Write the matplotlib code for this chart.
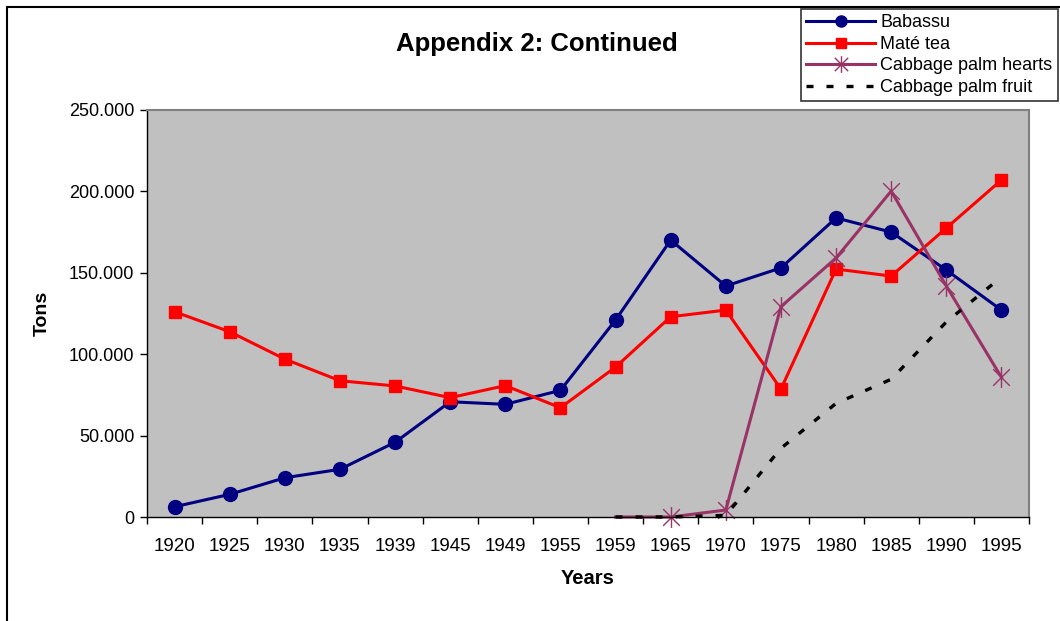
import numpy as np
import matplotlib
matplotlib.use("Agg")
import matplotlib.pyplot as plt
from matplotlib.path import Path
from matplotlib.patches import Rectangle
from matplotlib.ticker import FixedLocator, FuncFormatter

plt.rcParams['font.family'] = ['Liberation Sans', 'DejaVu Sans']

years = ["1920", "1925", "1930", "1935", "1939", "1945", "1949", "1955",
         "1959", "1965", "1970", "1975", "1980", "1985", "1990", "1995"]
babassu = [6300, 13900, 24100, 29300, 45900, 70800, 69200, 77800,
           121000, 170100, 141900, 153000, 183700, 175000, 151700, 127100]
mate_tea = [126100, 113800, 97000, 83700, 80500, 73300, 80700, 67100,
            92100, 123000, 127100, 78600, 152300, 148000, 177500, 207000]
palm_hearts = [np.nan] * 8 + [0, 0, 4300, 129200, 159100, 200200, 141900, 85800]
palm_fruit = [np.nan] * 8 + [0, 0, 1000, 42200, 69800, 84600, 119800, 147400]

W, H, DPI = 1060, 621, 100
fig = plt.figure(figsize=(W / DPI, H / DPI), dpi=DPI)
fig.patch.set_facecolor("white")

# outer chart frame
fig.patches.append(Rectangle((7 / W, -0.05), 1.2, 1 - 7 / H + 0.05, transform=fig.transFigure,
                             fill=False, edgecolor="black", linewidth=1.5))

ax = fig.add_axes([147 / W, 1 - 517 / H, (1029 - 147) / W, (517 - 110) / H])
ax.set_facecolor("#C0C0C0")

x = np.arange(len(years))
l1, = ax.plot(x, babassu, color="#000080", lw=2.2, marker="o", ms=10,
              mfc="#000080", mec="#000080", label="Babassu", clip_on=False)
l2, = ax.plot(x, mate_tea, color="#FF0000", lw=2.2, marker="s", ms=9,
              mfc="#FF0000", mec="#FF0000", label="Maté tea", clip_on=False)

ast = Path([(0, -1), (0, 1), (-0.8, -0.8), (0.8, 0.8), (-0.8, 0.8), (0.8, -0.8)],
           [Path.MOVETO, Path.LINETO, Path.MOVETO, Path.LINETO, Path.MOVETO, Path.LINETO])
first = 8
l3, = ax.plot(x, palm_hearts, color="#993366", lw=2.2, marker=ast, ms=15, mew=1.0,
              mfc="none", mec="#993366", markevery=list(range(first + 1, len(years))),
              label="Cabbage palm hearts", clip_on=False)
l4, = ax.plot(x, palm_fruit, color="black", lw=2.4, ls=(0, (2.1, 3.9)),
              dash_capstyle="butt", label="Cabbage palm fruit", clip_on=False)

ax.set_xlim(-0.5, len(years) - 0.5)
ax.set_ylim(0, 250000)
ax.xaxis.set_major_locator(FixedLocator(np.arange(-0.5, len(years), 1.0)))
ax.xaxis.set_major_formatter(FuncFormatter(lambda v, p: ""))
ax.xaxis.set_minor_locator(FixedLocator(x))
ax.set_xticklabels(years, minor=True)
ax.tick_params(axis="x", which="major", direction="out", length=5, width=1, color="black")
ax.tick_params(axis="x", which="minor", length=0, pad=15, labelsize=13.5)
ax.set_yticks([0, 50000, 100000, 150000, 200000, 250000])
ax.yaxis.set_major_formatter(FuncFormatter(
    lambda v, p: "0" if v == 0 else f"{int(v):,}".replace(",", ".")))
ax.tick_params(axis="y", direction="out", length=5, width=1, labelsize=13, pad=4)

for s in ["left", "bottom"]:
    ax.spines[s].set_color("black")
    ax.spines[s].set_linewidth(1)
for s in ["top", "right"]:
    ax.spines[s].set_color("#808080")
    ax.spines[s].set_linewidth(1.5)

fig.text(537 / W, 1 - 44 / H, "Appendix 2: Continued", ha="center", va="center",
         fontsize=18.5, fontweight="bold")
fig.text(42 / W, 1 - 313 / H, "Tons", ha="center", va="center", rotation=90,
         fontsize=14, fontweight="bold")
fig.text(588 / W, 1 - 578 / H, "Years", ha="center", va="center",
         fontsize=14.5, fontweight="bold")

leg = fig.legend(handles=[l1, l2, l3, l4], loc="upper left",
                 bbox_to_anchor=(801 / W, 1 - 9 / H), bbox_transform=fig.transFigure,
                 fontsize=13, frameon=True, fancybox=False, shadow=False,
                 handlelength=3.8, handletextpad=0.3, labelspacing=0.25,
                 borderpad=0.3, borderaxespad=0, markerscale=0.8)
leg.get_frame().set_edgecolor("black")
leg.get_frame().set_linewidth(1.2)

fig.savefig("out.png", dpi=DPI)
